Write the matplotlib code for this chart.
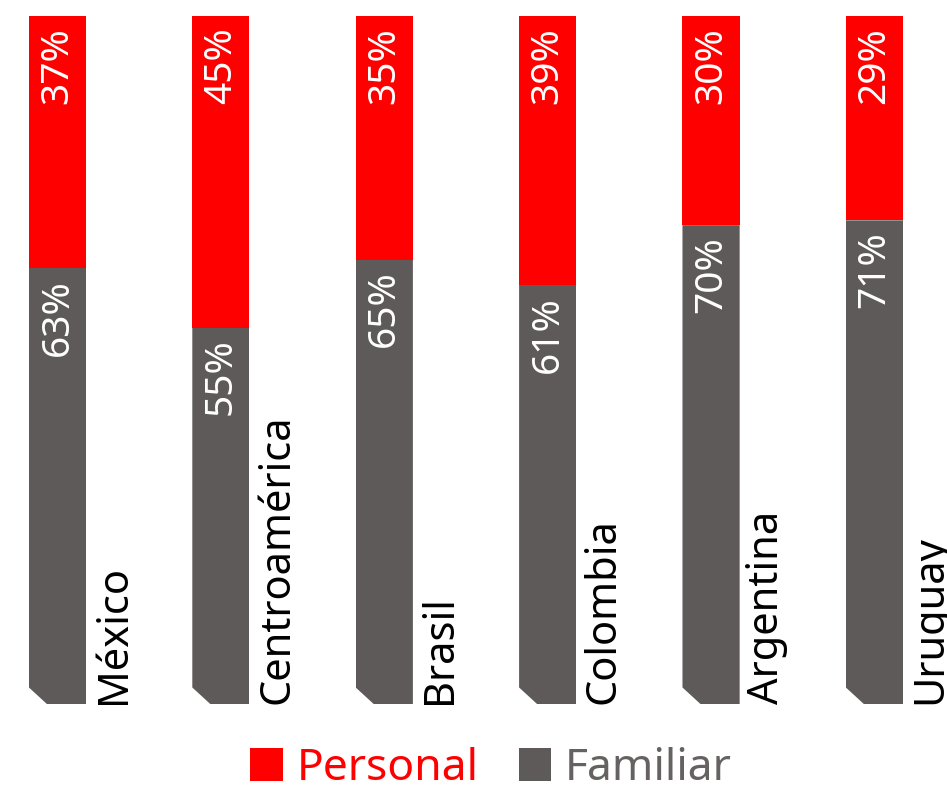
import matplotlib
matplotlib.use("Agg")
import matplotlib.pyplot as plt
from matplotlib.patches import Patch, Polygon

categories = ["México", "Centroamérica", "Brasil", "Colombia", "Argentina", "Uruguay"]
personal = [36.6, 45.3, 35.4, 39.1, 30.4, 29.7]
familiar = [63.4, 54.7, 64.6, 60.9, 69.6, 70.3]
personal_labels = ["37%", "45%", "35%", "39%", "30%", "29%"]
familiar_labels = ["63%", "55%", "65%", "61%", "70%", "71%"]

RED = "#ff0000"
GREY = "#5e5a59"
FONT = ["Noto Sans", "DejaVu Sans"]

fig = plt.figure(figsize=(9.47, 7.93), dpi=100)
ax = fig.add_axes([0, 89 / 793, 1, (704 - 16) / 793])
x = list(range(len(categories)))
w = 0.35

bars_f = ax.bar(x, familiar, width=w, color=GREY, linewidth=0)
bars_p = ax.bar(x, personal, width=w, bottom=familiar, color=RED, linewidth=0)

ax.set_xlim(-0.352, 5.444)
ax.set_ylim(0, 100)
ax.axis("off")

# chamfer bottom-left corner of grey bars
cx, cy = 0.11, 2.4
for r in bars_f:
    x0, y0, bw, bh = r.get_x(), r.get_y(), r.get_width(), r.get_height()
    poly = Polygon([(x0, y0 + cy), (x0 + cx, y0), (x0 + bw, y0), (x0 + bw, y0 + bh),
                    (x0, y0 + bh)], closed=True, transform=ax.transData)
    r.set_clip_path(poly)

pad = 1.6
for i in x:
    ax.text(i, 100 - pad, personal_labels[i], rotation=90, ha="center", va="top",
            color="white", fontsize=28, family=FONT)
    ax.text(i, familiar[i] - pad, familiar_labels[i], rotation=90, ha="center", va="top",
            color="white", fontsize=28, family=FONT)
    ax.text(i + w / 2 + 0.04, 0, categories[i], rotation=90, ha="left", va="bottom",
            color="black", fontsize=30, family=FONT, clip_on=False)

handles = [Patch(facecolor=RED, edgecolor="none"), Patch(facecolor=GREY, edgecolor="none")]
leg = fig.legend(handles, ["Personal", "Familiar"], loc="center", bbox_to_anchor=(491 / 947, 1 - 769 / 793),
                 ncol=2, frameon=False, handlelength=0.74, handleheight=0.74, handletextpad=0.3,
                 columnspacing=0.9, prop={"family": FONT, "size": 32}, labelcolor=[RED, "#666262"],
                 borderpad=0)

fig.savefig("out.png", dpi=100)
